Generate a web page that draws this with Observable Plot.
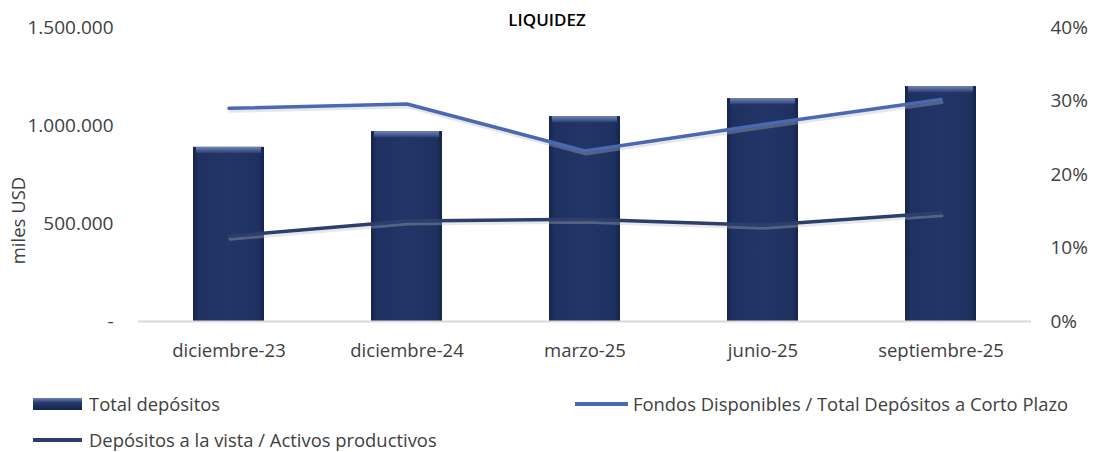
<!DOCTYPE html>
<html>
<head>
<meta charset="utf-8">
<script src="https://cdn.jsdelivr.net/npm/d3@7"></script>
<script src="https://cdn.jsdelivr.net/npm/@observablehq/plot@0.6"></script>
<style>
  body { margin: 0; background: #fff; }
  #chart svg { display: block; }
  #legend { position: relative; width: 1102px; height: 72px; font-family: "Open Sans", sans-serif; font-size: 18.4px; color: #404040; }
  #legend .t { position: absolute; line-height: 24px; white-space: nowrap; }
  #legend .sw { position: absolute; }
</style>
</head>
<body>
<div id="chart"></div>
<div id="legend"></div>
<script>
const title = "LIQUIDEZ";
const categories = ["diciembre-23", "diciembre-24", "marzo-25", "junio-25", "septiembre-25"];
const totalDepositos = [888700, 968900, 1045500, 1137400, 1198700];
const fondosRatio = [0.290, 0.296, 0.232, 0.268, 0.302];
const vistaRatio = [0.116, 0.1366, 0.139, 0.131, 0.148];
const leftTicks = [0, 500000, 1000000, 1500000];
const rightTicks = [0, 0.1, 0.2, 0.3, 0.4];
const seriesNames = ["Total depósitos", "Fondos Disponibles / Total Depósitos a Corto Plazo", "Depósitos a la vista / Activos productivos"];
const yLabel = "miles USD";

const yMax = 1500000, pctMax = 0.4;
const toY = p => p / pctMax * yMax;
const colLight = "#4a69b2", colDark = "#2b3e6c";

const data = categories.map((c, i) => ({cat: c, v: totalDepositos[i], f: fondosRatio[i], d: vistaRatio[i]}));
const fmtThousands = d => d === 0 ? "-" : d3.format(",")(d).replace(/,/g, ".");

const chart = Plot.plot({
  width: 1102, height: 380,
  marginTop: 27, marginBottom: 59, marginLeft: 138, marginRight: 71,
  style: {fontFamily: "Open Sans, sans-serif", fontSize: "18.5px", color: "#404040", background: "#fff"},
  x: {domain: categories, paddingInner: 0.6, paddingOuter: 0.3, label: null},
  y: {domain: [0, yMax], label: null},
  marks: [
    Plot.barY(data, {x: "cat", y: "v", fill: "url(#barGrad)"}),
    Plot.rectY(data, {x: "cat", y1: d => d.v - 32000, y2: "v", fill: "url(#bevelGrad)", insetLeft: 3, insetRight: 3}),
    Plot.ruleY([0], {stroke: "#d9d9d9", strokeWidth: 2}),
    Plot.line(data, {x: "cat", y: d => toY(d.f), stroke: "#bbbbbb", strokeWidth: 3, dx: 1, dy: 3, strokeOpacity: 0.35}),
    Plot.line(data, {x: "cat", y: d => toY(d.d), stroke: "#bbbbbb", strokeWidth: 3, dx: 1, dy: 3, strokeOpacity: 0.35}),
    Plot.line(data, {x: "cat", y: d => toY(d.f), stroke: colLight, strokeWidth: 3.5}),
    Plot.line(data, {x: "cat", y: d => toY(d.d), stroke: colDark, strokeWidth: 3.5}),
    Plot.axisY(leftTicks, {anchor: "left", tickSize: 0, tickPadding: 25, tickFormat: fmtThousands, label: null, fontSize: 19}),
    Plot.axisY(rightTicks.map(toY), {anchor: "right", tickSize: 0, tickPadding: 19, tickFormat: d => Math.round(d / yMax * pctMax * 100) + "%", label: null, fontSize: 19}),
    Plot.axisX({tickSize: 0, tickPadding: 22, label: null, fontSize: 18.5}),
    Plot.text([yLabel], {frameAnchor: "left", textAnchor: "middle", lineAnchor: "middle", rotate: -90, dx: -119, dy: 46, fontSize: 18.5}),
    Plot.text([title], {frameAnchor: "top", textAnchor: "middle", lineAnchor: "middle", dx: -38, dy: -7, fontWeight: 600, fontSize: 17, fill: "#000"})
  ]
});

const defs = d3.select(chart).insert("defs", ":first-child");
const g1 = defs.append("linearGradient").attr("id", "barGrad").attr("x1", "0").attr("x2", "1").attr("y1", "0").attr("y2", "0");
[["0%", "#16244a"], ["8%", "#1f3161"], ["50%", "#223566"], ["92%", "#1f3161"], ["100%", "#16244a"]].forEach(([o, c]) => g1.append("stop").attr("offset", o).attr("stop-color", c));
const g2 = defs.append("linearGradient").attr("id", "bevelGrad").attr("x1", "0").attr("x2", "0").attr("y1", "0").attr("y2", "1");
[["0%", "#6f86b8"], ["100%", "#2a3d70"]].forEach(([o, c]) => g2.append("stop").attr("offset", o).attr("stop-color", c));

document.getElementById("chart").appendChild(chart);

const legend = d3.select("#legend");
// row 1
legend.append("div").attr("class", "sw").style("left", "33px").style("top", "18px").style("width", "49px").style("height", "12px")
  .style("background", "linear-gradient(to bottom, #6f86b8 0%, #2a3d70 35%, #1f3161 60%, #16244a 100%)");
legend.append("div").attr("class", "t").style("left", "89px").style("top", "12px").text(seriesNames[0]);
legend.append("div").attr("class", "sw").style("left", "575px").style("top", "22px").style("width", "53px").style("height", "4px").style("background", colLight);
legend.append("div").attr("class", "t").style("left", "633px").style("top", "12px").text(seriesNames[1]);
// row 2
legend.append("div").attr("class", "sw").style("left", "33px").style("top", "58px").style("width", "49px").style("height", "4px").style("background", colDark);
legend.append("div").attr("class", "t").style("left", "89px").style("top", "48px").text(seriesNames[2]);
</script>
</body>
</html>
